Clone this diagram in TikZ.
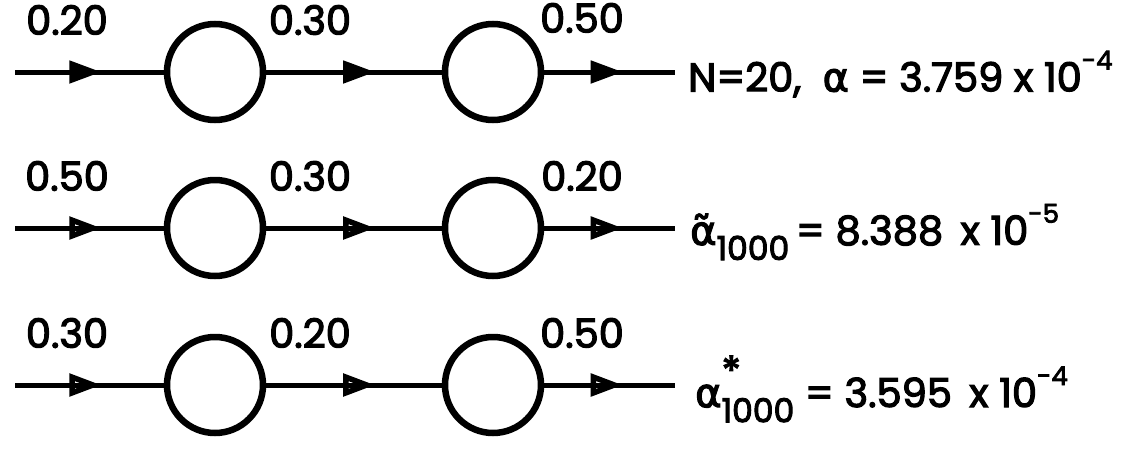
\documentclass[tikz,border=0pt]{standalone}
\usepackage{fontspec}
\setmainfont{Poppins}[BoldFont=Poppins,BoldFeatures={FakeBold=3}]
\newfontfamily\grk{DejaVu Sans}[BoldFont=DejaVu Sans,BoldFeatures={FakeBold=3}]
\usetikzlibrary{arrows.meta,decorations.markings}
\newcommand{\supr}[1]{\raisebox{0.55em}{\fontsize{26}{26}\selectfont #1}}
\newcommand{\subr}[1]{\raisebox{-0.38em}{\fontsize{33}{33}\selectfont #1}}
\begin{document}
\begin{tikzpicture}[x=1pt,y=-1pt,
  queue/.style={circle,draw,line width=6.5pt,minimum size=96pt,inner sep=0pt},
  flow/.style={line width=5pt},
  solidarr/.style={flow,postaction={decorate},decoration={markings,mark=at position #1 with {\arrow{Triangle[length=32pt,width=22pt]}}}},
  openarr/.style={flow,postaction={decorate},decoration={markings,mark=at position #1 with {\arrow{Triangle[open,length=32pt,width=22pt,line width=5.5pt]}}}},
  lab/.style={font=\fontsize{40}{40}\selectfont\bfseries,inner sep=0pt},
  res/.style={font=\fontsize{40}{40}\selectfont\bfseries,inner sep=0pt,anchor=west}]
\useasboundingbox (0,0) rectangle (1127,469);
% row 1
\coordinate (s1) at (15,72);
\node[queue] (a1) at (215,72) {};
\node[queue] (b1) at (493,72) {};
\coordinate (e1) at (675,72);
\draw[solidarr=0.58] (s1) -- (a1);
\draw[solidarr=0.62] (a1) -- (b1);
\draw[solidarr=0.6] (b1) -- (e1);
\node[lab] (l11) at (67,20) {0.20};
\node[lab] (l12) at (310,20) {0.30};
\node[lab] (l13) at (582,18) {0.50};
\node[res] (r1) at (688,74) {N=20,\ \ {\grk α} = 3.759 x 10\supr{-4}};
% row 2
\coordinate (s2) at (15,228);
\node[queue] (a2) at (215,228) {};
\node[queue] (b2) at (493,228) {};
\coordinate (e2) at (675,228);
\draw[openarr=0.58] (s2) -- (a2);
\draw[openarr=0.62] (a2) -- (b2);
\draw[openarr=0.6] (b2) -- (e2);
\node[lab] (l21) at (67,176) {0.50};
\node[lab] (l22) at (310,176) {0.30};
\node[lab] (l23) at (582,176) {0.20};
\node[res] (r2) at (690,232) {{\grk α̃}\subr{1000}\,=\ 8.388\ \,x 10\supr{-5}};
% row 3
\coordinate (s3) at (15,385);
\node[queue] (a3) at (215,385) {};
\node[queue] (b3) at (493,385) {};
\coordinate (e3) at (675,385);
\draw[openarr=0.58] (s3) -- (a3);
\draw[openarr=0.62] (a3) -- (b3);
\draw[openarr=0.6] (b3) -- (e3);
\node[lab] (l31) at (67,333) {0.30};
\node[lab] (l32) at (310,333) {0.20};
\node[lab] (l33) at (582,333) {0.50};
\node[res] (r3) at (695,389) {{\grk α}\rlap{\supr{\fontsize{40}{40}\selectfont *}}\subr{1000}\ =\ 3.595\ \,x 10\supr{-4}};
\end{tikzpicture}
\end{document}
